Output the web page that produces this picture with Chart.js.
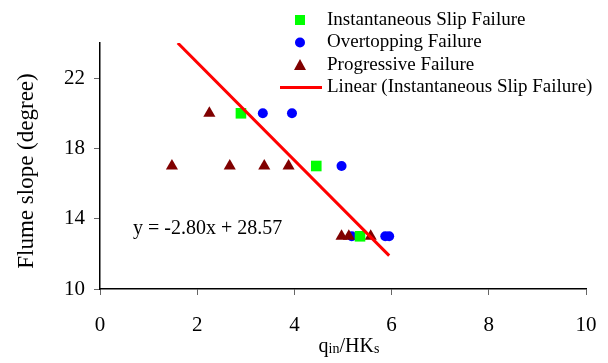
<!DOCTYPE html>
<html>
<head>
<meta charset="utf-8">
<script src="https://cdn.jsdelivr.net/npm/chart.js@4"></script>
<style>
  html, body { margin: 0; padding: 0; background: #fff; }
</style>
</head>
<body>
<canvas id="slopeChart" width="608" height="363"></canvas>
<script>
// series names (legend order)
const seriesNames = ['Instantaneous Slip Failure', 'Overtopping Failure', 'Progressive Failure', 'Linear (Instantaneous Slip Failure)'];

const instX = [2.9, 4.45, 5.35];
const instY = [20, 17, 13];
const overX = [3.35, 3.95, 4.97, 5.18, 5.87, 5.95];
const overY = [20, 20, 17, 13, 13, 13];
const progX = [2.25, 1.48, 2.67, 3.38, 3.88, 4.97, 5.12, 5.57];
const progY = [20, 17, 17, 17, 17, 13, 13, 13];
// trend line ends
const trendX = [1.6, 5.95];
const trendY = [24, 11.9];
const trendLabel = 'y = -2.80x + 28.57';

const xTicks = [0, 2, 4, 6, 8, 10];
const yTicks = [10, 14, 18, 22];
const yTitle = 'Flume slope (degree)';

const serif = '"Liberation Serif", "Times New Roman", serif';
const colors = ['#00ff00', '#0000ff', '#800000', '#ff0000'];

const toPoints = (xs, ys) => xs.map((x, i) => ({ x: x, y: ys[i] }));

// axis titles, equation and legend drawn by hand
const extras = {
  id: 'extras',
  afterDraw(chart) {
    const ctx = chart.ctx;
    ctx.save();
    ctx.fillStyle = '#000';

    // y title
    ctx.font = '23px ' + serif;
    ctx.textAlign = 'center';
    ctx.textBaseline = 'middle';
    ctx.save();
    ctx.translate(27, 171);
    ctx.rotate(-Math.PI / 2);
    ctx.fillText(yTitle, 0, 0);
    ctx.restore();

    // x title with subscripts: q_in/HK_s
    const parts = [['q', false], ['in', true], ['/HK', false], ['s', true]];
    ctx.textAlign = 'left';
    ctx.textBaseline = 'alphabetic';
    let total = 0;
    parts.forEach(p => {
      ctx.font = (p[1] ? '14px ' : '20px ') + serif;
      total += ctx.measureText(p[0]).width;
    });
    let xx = 349 - total / 2;
    parts.forEach(p => {
      ctx.font = (p[1] ? '14px ' : '20px ') + serif;
      ctx.fillText(p[0], xx, p[1] ? 353 : 352);
      xx += ctx.measureText(p[0]).width;
    });

    // equation
    ctx.font = '20px ' + serif;
    ctx.textBaseline = 'middle';
    ctx.fillText(trendLabel, 133, 229);

    // legend
    const rows = [20, 42.5, 65, 87.5];
    ctx.font = '19px ' + serif;
    rows.forEach((ry, i) => {
      ctx.fillStyle = colors[i];
      if (i === 0) {
        ctx.fillRect(295, ry - 5, 10, 10);
      } else if (i === 1) {
        ctx.beginPath();
        ctx.arc(300, ry, 5, 0, Math.PI * 2);
        ctx.fill();
      } else if (i === 2) {
        ctx.beginPath();
        ctx.moveTo(300, ry - 6);
        ctx.lineTo(306, ry + 5);
        ctx.lineTo(294, ry + 5);
        ctx.closePath();
        ctx.fill();
      } else {
        ctx.strokeStyle = colors[i];
        ctx.lineWidth = 3;
        ctx.beginPath();
        ctx.moveTo(280, ry);
        ctx.lineTo(322, ry);
        ctx.stroke();
      }
      ctx.fillStyle = '#000';
      ctx.fillText(seriesNames[i], 327, ry);
    });
    ctx.restore();
  }
};

new Chart(document.getElementById('slopeChart'), {
  type: 'scatter',
  data: {
    datasets: [
      {
        label: seriesNames[0],
        data: toPoints(instX, instY),
        pointStyle: 'rect',
        pointRadius: 7.5,
        backgroundColor: colors[0],
        borderWidth: 0,
        order: 1
      },
      {
        label: seriesNames[1],
        data: toPoints(overX, overY),
        pointStyle: 'circle',
        pointRadius: 5,
        backgroundColor: colors[1],
        borderWidth: 0,
        order: 3
      },
      {
        label: seriesNames[2],
        data: toPoints(progX, progY),
        pointStyle: 'triangle',
        pointRadius: 7,
        backgroundColor: colors[2],
        borderWidth: 0,
        order: 2
      },
      {
        type: 'line',
        label: seriesNames[3],
        data: toPoints(trendX, trendY),
        borderColor: colors[3],
        borderWidth: 3,
        pointRadius: 0,
        fill: false,
        order: 0
      }
    ]
  },
  options: {
    responsive: false,
    animation: false,
    layout: { padding: { left: 0, right: 22, top: 43, bottom: 0 } },
    plugins: {
      legend: { display: false },
      tooltip: { enabled: false }
    },
    scales: {
      x: {
        type: 'linear',
        min: 0,
        max: 10,
        afterBuildTicks: s => { s.ticks = xTicks.map(v => ({ value: v })); },
        afterFit: s => { s.height = 74; s.paddingLeft = 0; s.paddingRight = 0; },
        grid: { drawOnChartArea: false, drawTicks: true, tickLength: 6, tickColor: '#666' },
        border: { color: '#000', width: 1.5 },
        ticks: { color: '#000', font: { family: serif, size: 21 }, padding: 18, maxRotation: 0 }
      },
      y: {
        type: 'linear',
        min: 10,
        max: 24,
        afterBuildTicks: s => { s.ticks = yTicks.map(v => ({ value: v })); },
        afterFit: s => { s.width = 100; s.paddingTop = 0; s.paddingBottom = 0; },
        grid: { drawOnChartArea: false, drawTicks: true, tickLength: 6, tickColor: '#666' },
        border: { color: '#000', width: 1.5 },
        ticks: { color: '#000', font: { family: serif, size: 21 }, padding: 9 }
      }
    }
  },
  plugins: [extras]
});
</script>
</body>
</html>
